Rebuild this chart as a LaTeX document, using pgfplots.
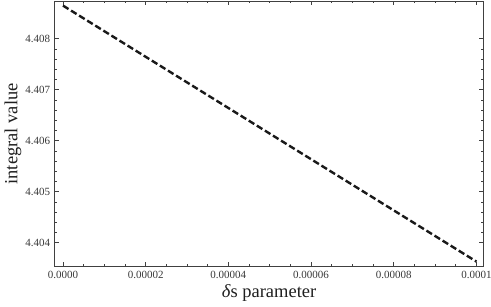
\documentclass[border=0pt]{standalone}
\usepackage{pgfplots}
\pgfplotsset{compat=1.18}
\usepackage{fontspec}
\setmainfont{Liberation Serif}
\begin{document}
\begin{tikzpicture}
\begin{axis}[
  at={(0,0)}, anchor=south west,
  scale only axis,
  width=428.8pt, height=265.7pt,
  xmin=-0.000002, xmax=0.0001017,
  ymin=4.40353, ymax=4.40874,
  scaled ticks=false,
  xtick={0,0.00002,0.00004,0.00006,0.00008,0.0001},
  xticklabels={0.0000,0.00002,0.00004,0.00006,0.00008,0.0001},
  ytick={4.404,4.405,4.406,4.407,4.408},
  yticklabels={4.404,4.405,4.406,4.407,4.408},
  minor x tick num=3,
  minor y tick num=4,
  tick align=inside,
  major tick length=4.5pt,
  minor tick length=2.5pt,
  tick style={black!75, line width=0.8pt},
  axis line style={black!75, line width=1pt},
  /pgf/number format/assume math mode=true,
  ticklabel style={font=\fontsize{11}{13}\selectfont, text=black!78},
  xticklabel style={anchor=center, yshift=-8pt},
  yticklabel style={anchor=east, xshift=-1pt},
  xlabel={{\itshape δ}s parameter},
  ylabel={integral value},
  label style={font=\fontsize{18.5}{20}\selectfont, text=black!88},
  xlabel style={at={(axis description cs:0.5,-0.0997)}, anchor=center},
  ylabel style={at={(axis description cs:-0.0973,0.5)}, anchor=center},
]
\addplot[black!90, line width=2.4pt, dash pattern=on 6.5pt off 3pt] coordinates {
  (0, 4.40865)
  (0.0001, 4.40363)
};
\end{axis}
\pgfresetboundingbox
\path (-54.7pt,-39.3pt) rectangle (436.3pt,266.7pt);
\end{tikzpicture}
\end{document}
